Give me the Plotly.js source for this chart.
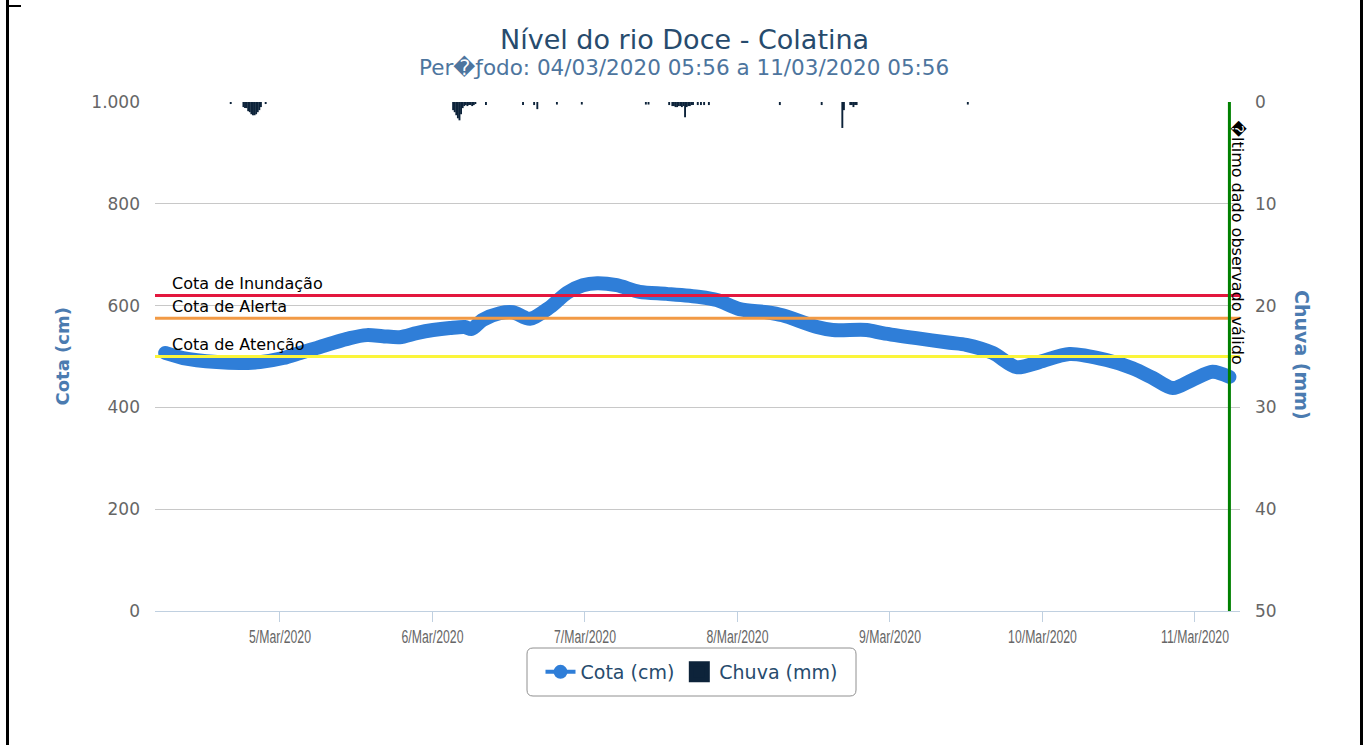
<!DOCTYPE html>
<html>
<head>
<meta charset="utf-8">
<script src="https://cdn.plot.ly/plotly-3.0.1.min.js"></script>
<style>
  html, body { margin: 0; padding: 0; background: #fff; }
  #wrap { position: relative; width: 1365px; height: 745px; }
  #chart { width: 1365px; height: 745px; }
  .bd { position: absolute; background: #000; }
  .scatterlayer .js-line { stroke-linecap: round; stroke-linejoin: round; }
</style>
</head>
<body>
<div id="wrap">
  <div id="chart"></div>
  <div class="bd" style="left:6px; top:0; width:3px; height:745px;"></div>
  <div class="bd" style="left:6px; top:5px; width:15px; height:2px;"></div>
  <div class="bd" style="left:1360px; top:0; width:3px; height:745px;"></div>
</div>
<script>
// ---- Data ----
const cotaTimes = [
  '2020-03-04 05:56','2020-03-04 08:45','2020-03-04 14:05','2020-03-04 17:40','2020-03-04 20:50',
  '2020-03-05 00:30','2020-03-05 03:10','2020-03-05 05:50','2020-03-05 11:00','2020-03-05 13:40',
  '2020-03-05 16:10','2020-03-05 18:50','2020-03-05 21:30','2020-03-06 00:05','2020-03-06 02:45',
  '2020-03-06 05:05','2020-03-06 06:10','2020-03-06 07:55','2020-03-06 10:35','2020-03-06 12:40',
  '2020-03-06 15:20','2020-03-06 18:30','2020-03-06 21:10','2020-03-06 23:40','2020-03-07 01:55',
  '2020-03-07 05:00','2020-03-07 08:35','2020-03-07 12:50','2020-03-07 18:05','2020-03-07 20:45',
  '2020-03-08 00:20','2020-03-08 04:35','2020-03-08 07:05','2020-03-08 12:30','2020-03-08 15:00',
  '2020-03-08 20:20','2020-03-08 22:50','2020-03-09 04:10','2020-03-09 09:25','2020-03-09 12:00',
  '2020-03-09 16:10','2020-03-09 19:55','2020-03-09 23:30','2020-03-10 04:15','2020-03-10 10:05',
  '2020-03-10 14:10','2020-03-10 17:20','2020-03-10 20:30','2020-03-10 23:35','2020-03-11 02:45',
  '2020-03-11 05:25'
];
const cotaValues = [
  507, 497, 489, 487, 489,
  497, 507, 517, 536, 542,
  540, 538, 546, 552, 556,
  558, 554, 572, 585, 587,
  574, 597, 625, 640, 644,
  640, 627, 623, 617, 611,
  593, 587, 581, 558, 552,
  552, 546, 536, 527, 523,
  507, 479, 489, 505, 493,
  477, 458, 438, 454, 470,
  460
];

const chuvaTimes = [
  '2020-03-04 16:15',
  '2020-03-04 18:15','2020-03-04 18:30','2020-03-04 18:45','2020-03-04 19:00','2020-03-04 19:15','2020-03-04 19:30',
  '2020-03-04 19:45','2020-03-04 20:00','2020-03-04 20:15','2020-03-04 20:30','2020-03-04 20:45','2020-03-04 21:00',
  '2020-03-04 21:45',
  '2020-03-06 03:15','2020-03-06 03:30','2020-03-06 03:45','2020-03-06 04:00','2020-03-06 04:15','2020-03-06 04:30',
  '2020-03-06 04:45','2020-03-06 05:00','2020-03-06 05:15','2020-03-06 05:30','2020-03-06 05:45','2020-03-06 06:00',
  '2020-03-06 06:15','2020-03-06 06:30','2020-03-06 06:45',
  '2020-03-06 08:25','2020-03-06 14:15','2020-03-06 16:00','2020-03-06 16:30',
  '2020-03-06 19:35','2020-03-06 23:30','2020-03-07 09:35','2020-03-07 10:00',
  '2020-03-07 13:15','2020-03-07 13:45','2020-03-07 14:00','2020-03-07 14:15','2020-03-07 14:30','2020-03-07 14:45',
  '2020-03-07 15:00','2020-03-07 15:15','2020-03-07 15:30','2020-03-07 15:45','2020-03-07 16:00','2020-03-07 16:15',
  '2020-03-07 16:30','2020-03-07 16:45','2020-03-07 17:00','2020-03-07 17:45','2020-03-07 18:15','2020-03-07 18:45',
  '2020-03-07 19:30',
  '2020-03-08 06:40','2020-03-08 13:15','2020-03-08 16:30','2020-03-08 16:45',
  '2020-03-08 17:45','2020-03-08 18:00','2020-03-08 18:15','2020-03-08 18:30','2020-03-08 18:45',
  '2020-03-09 12:15'
];
const chuvaValues = [
  0.2,
  0.5, 0.6, 0.6, 0.9, 1.0, 1.2,
  1.3, 1.3, 1.2, 1.0, 0.8, 0.5,
  0.2,
  0.8, 1.0, 1.3, 1.6, 1.8, 1.2,
  0.6, 0.4, 0.3, 0.4, 0.3, 0.3,
  0.4, 0.3, 0.2,
  0.3, 0.3, 0.3, 0.7,
  0.25, 0.25, 0.25, 0.25,
  0.3, 0.4, 0.4, 0.5, 0.5, 0.4,
  0.4, 0.5, 0.4, 1.5, 0.5, 0.4,
  0.4, 0.3, 0.3, 0.3, 0.3, 0.3,
  0.3,
  0.3, 0.3, 2.55, 0.8,
  0.3, 0.3, 0.5, 0.3, 0.3,
  0.25
];

const thresholdNames = ['Cota de Inundação', 'Cota de Alerta', 'Cota de Atenção'];
const thresholdValues = [620, 575, 500];
const thresholdColors = ['#e3173e', '#f29a45', '#fbf53a'];

const dayTicks = ['2020-03-05','2020-03-06','2020-03-07','2020-03-08','2020-03-09','2020-03-10','2020-03-11'];
const lastValidTime = '2020-03-11 05:25';

const titleText = 'Nível do rio Doce - Colatina';
const subtitleText = 'Per\uFFFD\u0192odo: 04/03/2020 05:56 a 11/03/2020 05:56';
const lastValidText = '\uFFFDltimo dado observado válido';

// ---- Chart ----
const FONT = 'DejaVu Sans, Verdana, sans-serif';
const BLUE = '#2f7ed8';
const DARK = '#0d233a';
const PLOT_L = 155, PLOT_R = 1240, PLOT_T = 102, PLOT_B = 611;
const px2x = p => (p - PLOT_L) / (PLOT_R - PLOT_L);
const px2y = p => (PLOT_B - p) / (PLOT_B - PLOT_T);

const traces = [
  {
    x: cotaTimes, y: cotaValues, type: 'scatter', mode: 'lines',
    line: { color: BLUE, width: 14, shape: 'spline', smoothing: 0.8 },
    name: 'Cota (cm)', showlegend: false, yaxis: 'y', hoverinfo: 'skip'
  },
  {
    x: chuvaTimes, y: chuvaValues, type: 'bar', yaxis: 'y2',
    width: 18 * 60 * 1000,
    marker: { color: DARK, line: { width: 0 } },
    name: 'Chuva (mm)', showlegend: false
  },
  {
    x: [null], y: [null], type: 'scatter', mode: 'lines+markers',
    line: { color: BLUE, width: 4 }, marker: { color: BLUE, size: 14 },
    name: 'Cota (cm)', showlegend: true
  },
  {
    x: [null], y: [null], type: 'scatter', mode: 'markers', yaxis: 'y2',
    marker: { color: DARK, symbol: 'square', size: 16, line: { color: DARK, width: 5 } },
    name: 'Chuva (mm)', showlegend: true
  }
];

const shapes = thresholdValues.map((v, i) => ({
  type: 'line', xref: 'paper', yref: 'y', x0: 0, x1: 1, y0: v, y1: v,
  line: { color: thresholdColors[i], width: 3 }, layer: 'above'
}));
shapes.push({
  type: 'line', xref: 'x', yref: 'paper', x0: lastValidTime, x1: lastValidTime, y0: 0, y1: 1,
  line: { color: '#008000', width: 3 }, layer: 'above'
});
// rounded legend frame
(function () {
  const x0 = px2x(527), x1 = px2x(856), y0 = px2y(696), y1 = px2y(648);
  const rx = 6 / (PLOT_R - PLOT_L), ry = 6 / (PLOT_B - PLOT_T);
  const p = `M ${x0 + rx},${y1} L ${x1 - rx},${y1} Q ${x1},${y1} ${x1},${y1 - ry} L ${x1},${y0 + ry} ` +
            `Q ${x1},${y0} ${x1 - rx},${y0} L ${x0 + rx},${y0} Q ${x0},${y0} ${x0},${y0 + ry} ` +
            `L ${x0},${y1 - ry} Q ${x0},${y1} ${x0 + rx},${y1} Z`;
  shapes.push({ type: 'path', xref: 'paper', yref: 'paper', path: p,
    line: { color: '#909090', width: 1 }, fillcolor: '#fff', layer: 'below' });
})();

const annotations = thresholdNames.map((n, i) => ({
  text: n, xref: 'paper', yref: 'y', x: 0.0138, y: thresholdValues[i],
  xanchor: 'left', yanchor: 'middle', yshift: 12, showarrow: false,
  font: { family: FONT, size: 16, color: '#000' }
}));
annotations.push(
  { text: titleText, xref: 'paper', yref: 'paper', x: px2x(684.5), y: px2y(40), xanchor: 'center', yanchor: 'middle',
    showarrow: false, font: { family: FONT, size: 27, color: '#274b6d' } },
  { text: subtitleText, xref: 'paper', yref: 'paper', x: px2x(684), y: px2y(68), xanchor: 'center', yanchor: 'middle',
    showarrow: false, font: { family: FONT, size: 21.5, color: '#4d759e' } },
  { text: 'Cota (cm)', xref: 'paper', yref: 'paper', x: px2x(62), y: 0.5, xanchor: 'center', yanchor: 'middle',
    textangle: -90, showarrow: false, font: { family: FONT, size: 18, color: '#4b7bb0', weight: 'bold' } },
  { text: 'Chuva (mm)', xref: 'paper', yref: 'paper', x: px2x(1302), y: px2y(355), xanchor: 'center', yanchor: 'middle',
    textangle: 90, showarrow: false, font: { family: FONT, size: 19, color: '#4b7bb0', weight: 'bold' } },
  { text: lastValidText, xref: 'x', yref: 'paper', x: lastValidTime, y: px2y(119), xshift: 9,
    xanchor: 'center', yanchor: 'top', textangle: 90, showarrow: false,
    font: { family: FONT, size: 16, color: '#000' } }
);

const layout = {
  width: 1365, height: 745,
  margin: { l: PLOT_L, r: 1365 - PLOT_R, t: PLOT_T, b: 745 - PLOT_B },
  paper_bgcolor: '#fff', plot_bgcolor: '#fff',
  separators: ',.',
  font: { family: FONT },
  showlegend: true,
  barmode: 'overlay',
  xaxis: {
    type: 'date', range: ['2020-03-04 04:20', '2020-03-11 07:05'],
    tickvals: dayTicks, tickformat: '%-d/%b/%Y',
    ticks: 'outside', ticklen: 10, tickcolor: '#c0d0e0', tickwidth: 1,
    showline: true, linecolor: '#c0d0e0', linewidth: 1,
    showgrid: false, zeroline: false,
    tickfont: { family: 'Liberation Sans, Arial, sans-serif', size: 17.5, color: '#666' }
  },
  yaxis: {
    range: [0, 1000], dtick: 200, tick0: 0, separatethousands: true,
    showgrid: true, gridcolor: '#c8c8c8', gridwidth: 1, zeroline: false, showline: false,
    ticks: '', ticklabelstandoff: 14,
    tickfont: { family: FONT, size: 17, color: '#666' }
  },
  yaxis2: {
    overlaying: 'y', side: 'right', range: [50, 0], dtick: 10, tick0: 0,
    showgrid: false, zeroline: false, showline: false,
    ticks: '', ticklabelstandoff: 14,
    tickfont: { family: FONT, size: 17, color: '#666' }
  },
  legend: {
    orientation: 'h', x: px2x(691.5), xanchor: 'center', y: px2y(672), yanchor: 'middle',
    bgcolor: 'rgba(0,0,0,0)', borderwidth: 0,
    font: { family: FONT, size: 19, color: '#274b6d' },
    itemwidth: 30, traceorder: 'normal'
  },
  shapes: shapes,
  annotations: annotations
};

Plotly.newPlot('chart', traces, layout, { displayModeBar: false, staticPlot: true }).then(function (gd) {
  // narrow date labels like the reference
  gd.querySelectorAll('.xtick text').forEach(function (t) {
    const w = t.getComputedTextLength();
    t.setAttribute('textLength', (w * 0.7).toFixed(1));
    t.setAttribute('lengthAdjust', 'spacingAndGlyphs');
  });
});
</script>
</body>
</html>
